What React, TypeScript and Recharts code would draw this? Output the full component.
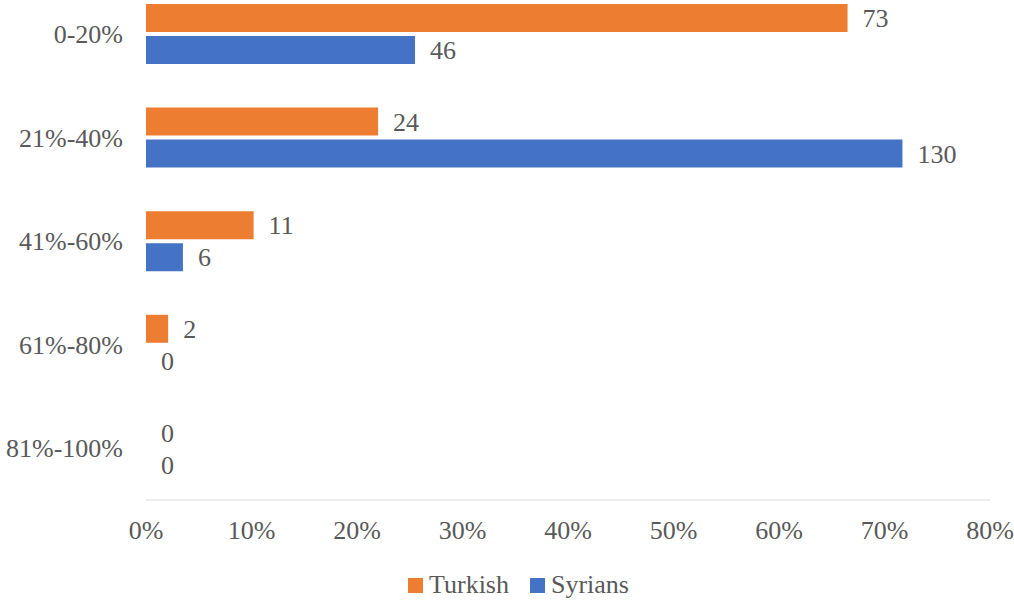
import { BarChart, Bar, XAxis, YAxis, LabelList, Legend } from "recharts";

const categories = ["0-20%", "21%-40%", "41%-60%", "61%-80%", "81%-100%"];
const turkishCounts = [73, 24, 11, 2, 0];
const syrianCounts = [46, 130, 6, 0, 0];
// bar lengths (share of respondents, %)
const turkishShare = [66.5, 22.0, 10.2, 2.1, 0];
const syrianShare = [25.5, 71.7, 3.5, 0, 0];
const xTicks = [0, 10, 20, 30, 40, 50, 60, 70, 80];

const ORANGE = "#ED7D31";
const BLUE = "#4472C4";
const TEXT = "#595959";
const FONT = '"Liberation Serif", "Times New Roman", serif';
const FS = 26;

const data = categories.map((name, i) => ({
  name,
  Turkish: turkishShare[i],
  Syrians: syrianShare[i],
  turkishCount: turkishCounts[i],
  syrianCount: syrianCounts[i],
}));

const legendItems = [
  { label: "Turkish", color: ORANGE },
  { label: "Syrians", color: BLUE },
];

function LegendContent() {
  return (
    <div style={{ display: "flex", justifyContent: "flex-start", paddingLeft: 408, alignItems: "center", fontFamily: FONT, fontSize: FS, color: TEXT, height: 30 }}>
      {legendItems.map((item, i) => (
        <span key={item.label} style={{ display: "flex", alignItems: "center", marginLeft: i ? 21 : 0 }}>
          <span style={{ width: 15, height: 15, background: item.color, marginRight: 6, display: "inline-block" }} />
          {item.label}
        </span>
      ))}
    </div>
  );
}

export default function App() {
  return (
    <div style={{ position: "fixed", left: 0, top: 0, width: 1014, height: 601, overflow: "hidden", background: "#fff" }}>
      <div style={{ position: "absolute", left: 0, top: -18 }}>
        <BarChart
          width={1014}
          height={619}
          data={data}
          layout="vertical"
          margin={{ top: 0, right: 24, left: 0, bottom: 0 }}
          barSize={28}
          barGap={4}
        >
          <XAxis
            type="number"
            domain={[0, 80]}
            ticks={xTicks}
            tickFormatter={(v) => `${v}%`}
            axisLine={{ stroke: "#D9D9D9" }}
            tickLine={false}
            tickSize={0}
            tickMargin={21}
            height={71}
            tick={{ fill: TEXT, fontSize: FS, fontFamily: FONT }}
            interval={0}
          />
          <YAxis
            type="category"
            dataKey="name"
            width={146}
            axisLine={false}
            tickLine={false}
            tickSize={0}
            tickMargin={23}
            tick={{ fill: TEXT, fontSize: FS, fontFamily: FONT }}
          />
          <Legend
            verticalAlign="bottom"
            content={<LegendContent />}
            wrapperStyle={{ left: 0, width: 1014, bottom: 1, height: 30 }}
          />
          <Bar dataKey="Turkish" fill={ORANGE} minPointSize={0.01} isAnimationActive={false}>
            <LabelList dataKey="turkishCount" position="right" offset={15} fill={TEXT} fontSize={FS} fontFamily={FONT} />
          </Bar>
          <Bar dataKey="Syrians" fill={BLUE} minPointSize={0.01} isAnimationActive={false}>
            <LabelList dataKey="syrianCount" position="right" offset={15} fill={TEXT} fontSize={FS} fontFamily={FONT} />
          </Bar>
        </BarChart>
      </div>
    </div>
  );
}
